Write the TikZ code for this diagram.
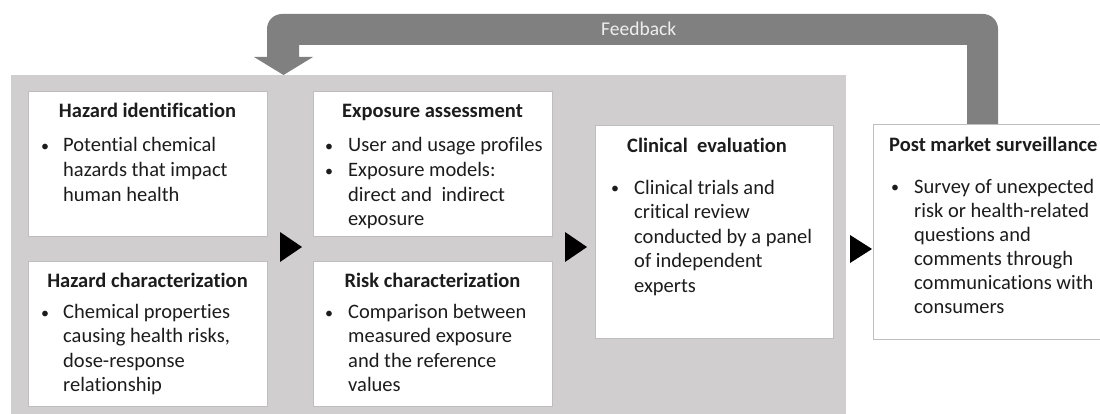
\documentclass[tikz,border=0pt]{standalone}
\usepackage{fontspec}
\setmainfont{Carlito}[Ligatures=NoCommon]
\usetikzlibrary{calc}
\definecolor{bggray}{RGB}{208,206,206}
\definecolor{fbgray}{RGB}{128,128,128}
\definecolor{boxline}{RGB}{190,190,190}
\definecolor{txt}{RGB}{28,28,28}
\definecolor{fbtxt}{RGB}{238,238,238}
\begin{document}
\begin{tikzpicture}[x=1pt,y=-1pt,
  panel/.style={draw=boxline, line width=1.2pt, fill=white, inner sep=0pt, anchor=north west},
  ttl/.style={font=\bfseries\fontsize{20.5}{24.5}\selectfont, text=txt, inner sep=0pt},
  body/.style={font=\fontsize{20.5}{24.5}\selectfont, text=txt, inner sep=0pt, align=left, anchor=base west},
  bul/.style={font=\fontsize{16}{20}\selectfont, text=txt, inner sep=0pt, anchor=base},
  tri/.style={fill=black}
]
\useasboundingbox (0,0) rectangle (1100,414);
\clip (0,0) rectangle (1100,414);

% grey container
\node[fill=bggray, inner sep=0pt, anchor=north west, minimum width=835pt, minimum height=350pt] (bg) at (11,75) {};

% feedback arrow
\fill[fbgray] (998,124) -- (998,29) .. controls (998,20.7) and (991.3,14) .. (983,14)
  -- (282,14) .. controls (273.7,14) and (267,20.7) .. (267,29)
  -- (267,57) -- (254,57) -- (283.5,75) -- (313,57) -- (299,57) -- (299,45)
  -- (967,45) -- (967,124) -- cycle;
\node[font=\fontsize{19.5}{23}\selectfont, text=fbtxt, inner sep=0pt, anchor=base west] (fb) at (601,36) {Feedback};

% boxes
\node[panel, minimum width=239pt, minimum height=145pt] (hid) at (28,91) {};
\node[panel, minimum width=239pt, minimum height=145pt] (hch) at (28,261) {};
\node[panel, minimum width=239pt, minimum height=145pt] (exa) at (313,91) {};
\node[panel, minimum width=239pt, minimum height=145pt] (rch) at (313,261) {};
\node[panel, minimum width=238pt, minimum height=213pt] (cev) at (595,125) {};
\node[panel, minimum width=240pt, minimum height=215pt] (pms) at (873,124) {};

% arrows
\fill[tri] (280,232) -- (302,247) -- (280,262) -- cycle;
\fill[tri] (565,232) -- (587,247) -- (565,262) -- cycle;
\fill[tri] (850,235) -- (872,249) -- (850,263) -- cycle;

% Hazard identification
\node[ttl, anchor=base] (hidT) at (147.5,118) {Hazard identification};
\node[bul] (hidD) at (45,152) {•};
\node[body] (hidB) at (63,201) {Potential chemical\\hazards that impact\\human health};

% Hazard characterization
\node[ttl, anchor=base] (hchT) at (147.5,287) {Hazard characterization};
\node[bul] (hchD) at (45,318) {•};
\node[body] (hchB) at (63,391.5) {Chemical properties\\causing health risks,\\dose-response\\relationship};

% Exposure assessment
\node[ttl, anchor=base] (exaT) at (432.5,118) {Exposure assessment};
\node[bul] (exaD1) at (329,152) {•};
\node[bul] (exaD2) at (329,176.5) {•};
\node[body] (exaB) at (348,225.5) {User and usage profiles\\Exposure models:\\direct and~ indirect\\exposure};

% Risk characterization
\node[ttl, anchor=base] (rchT) at (432.5,287) {Risk characterization};
\node[bul] (rchD) at (329,318) {•};
\node[body] (rchB) at (348,391.5) {Comparison between\\measured exposure\\and the reference\\values};

% Clinical evaluation
\node[ttl, anchor=base west] (cevT) at (627,153) {Clinical~ evaluation};
\node[bul] (cevD) at (615,194) {•};
\node[body] (cevB) at (634,292) {Clinical trials and\\critical review\\conducted by a panel\\of independent\\experts};

% Post market surveillance
\node[ttl, anchor=base west] (pmsT) at (889,152) {Post market surveillance};
\node[bul] (pmsD) at (895,193) {•};
\node[body, font=\fontsize{20.5}{24.1}\selectfont] (pmsB) at (914,313.5) {Survey of unexpected\\risk or health-related\\questions and\\comments through\\communications with\\consumers};
\end{tikzpicture}
\end{document}
